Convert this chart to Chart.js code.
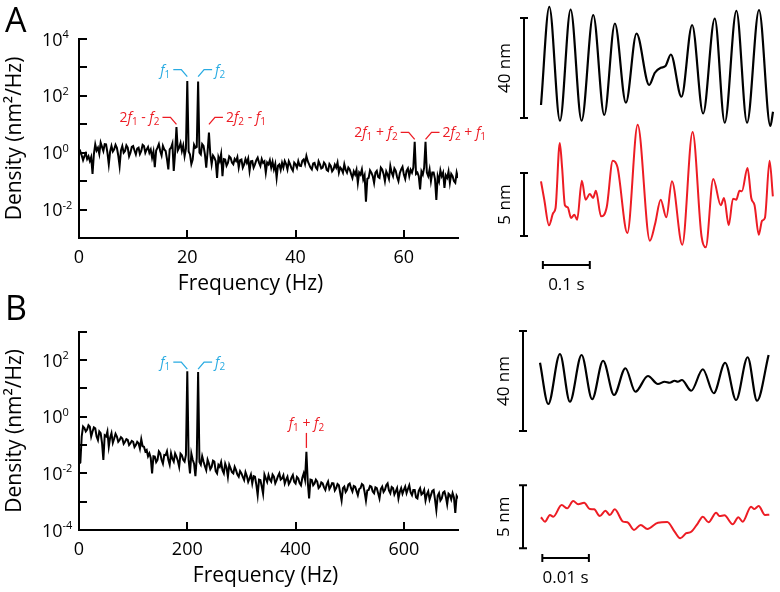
<!DOCTYPE html>
<html>
<head>
<meta charset="utf-8">
<script src="https://cdn.jsdelivr.net/npm/chart.js@4.4.1/dist/chart.umd.min.js"></script>
<style>
  body { margin: 0; background: #fff; width: 780px; height: 592px; position: relative; overflow: hidden; }
  canvas { position: absolute; }
</style>
</head>
<body>
<canvas id="specA" width="495" height="295" style="left:0;top:0"></canvas>
<canvas id="traceA" width="285" height="295" style="left:495px;top:0"></canvas>
<canvas id="specB" width="495" height="297" style="left:0;top:295px"></canvas>
<canvas id="traceB" width="285" height="297" style="left:495px;top:295px"></canvas>
<script>
// ---- data ----
// panel A spectrum, 0.25 Hz bins from 0 to 70 Hz, nm^2/Hz
const binA = 0.25;
const densA = [
  0.87, 1.1, 0.8, 0.55, 0.76, 0.95, 0.6, 0.75, 0.51, 0.7,
  0.18, 0.9, 1.97, 1.2, 1.5, 0.9, 2.25, 1.6, 1.15, 2.0,
  1.97, 1.0, 0.39, 1.1, 1.72, 1.1, 1.31, 1.9, 1.5, 0.8,
  0.34, 1.2, 1.72, 1.0, 1.15, 1.8, 1.5, 0.75, 1.0, 1.6,
  1.72, 1.2, 0.87, 1.4, 1.5, 0.9, 1.15, 1.9, 1.72, 1.0,
  1.31, 1.6, 1.0, 1.3, 0.67, 1.1, 0.31, 1.2, 1.5, 2.0,
  1.15, 0.8, 1.72, 1.3, 1.15, 0.6, 0.26, 1.3, 1.5, 2.1,
  0.23, 1.0, 8.0, 1.2, 1.5, 2.2, 1.15, 1.8, 0.76, 1.4,
  330, 1.1, 0.87, 0.4, 0.58, 1.9, 1.5, 1.6, 320, 1.0,
  0.87, 2.0, 1.72, 0.9, 0.3, 1.1, 5.1, 0.9, 0.39, 0.8,
  0.67, 0.5, 0.13, 0.7, 0.51, 0.9, 0.15, 0.6, 0.58, 0.35,
  0.44, 0.75, 0.67, 0.45, 0.39, 0.6, 0.51, 0.7, 0.3, 0.55,
  0.58, 0.3, 0.39, 0.6, 0.44, 0.62, 0.23, 0.5, 0.51, 0.3,
  0.39, 0.55, 0.67, 0.45, 0.34, 0.6, 0.44, 0.5, 0.2, 0.45,
  0.39, 0.55, 0.3, 0.48, 0.26, 0.4, 0.13, 0.35, 0.39, 0.25,
  0.44, 0.3, 0.51, 0.4, 0.26, 0.5, 0.39, 0.28, 0.23, 0.45,
  0.39, 0.3, 0.51, 0.35, 0.34, 0.52, 0.58, 0.4, 0.76, 0.5,
  0.39, 0.3, 0.26, 0.42, 0.44, 0.3, 0.26, 0.5, 0.39, 0.28,
  0.3, 0.45, 0.39, 0.25, 0.23, 0.4, 0.34, 0.22, 0.26, 0.38,
  0.3, 0.45, 0.2, 0.3, 0.26, 0.2, 0.39, 0.25, 0.2, 0.3,
  0.26, 0.18, 0.13, 0.22, 0.17, 0.25, 0.087, 0.2, 0.17, 0.26,
  0.115, 0.16, 0.019, 0.12, 0.13, 0.24, 0.2, 0.15, 0.087, 0.2,
  0.23, 0.14, 0.13, 0.3, 0.26, 0.18, 0.1, 0.22, 0.17, 0.12,
  0.34, 0.2, 0.15, 0.28, 0.23, 0.14, 0.1, 0.19, 0.26, 0.32,
  0.17, 0.12, 0.23, 0.28, 0.15, 0.25, 0.2, 0.3, 2.4, 0.18,
  0.2, 0.15, 0.051, 0.22, 0.17, 0.3, 2.4, 0.2, 0.15, 0.26,
  0.1, 0.2, 0.2, 0.12, 0.022, 0.15, 0.1, 0.24, 0.15, 0.2,
  0.058, 0.16, 0.13, 0.22, 0.087, 0.18, 0.15, 0.1, 0.087, 0.2,
  0.13
];
// panel B spectrum, 2.5 Hz bins from 0 to 700 Hz
const binB = 2.5;
const densB = [
  0.022, 0.024, 0.2, 0.45, 0.4, 0.3, 0.35, 0.5, 0.44, 0.2,
  0.3, 0.42, 0.39, 0.2, 0.15, 0.3, 0.26, 0.12, 0.03, 0.22,
  0.2, 0.3, 0.087, 0.18, 0.26, 0.12, 0.17, 0.25, 0.2, 0.13,
  0.15, 0.19, 0.17, 0.11, 0.13, 0.16, 0.15, 0.1, 0.115, 0.14,
  0.13, 0.085, 0.1, 0.13, 0.115, 0.075, 0.16, 0.09, 0.087, 0.06,
  0.067, 0.04, 0.051, 0.035, 0.01, 0.04, 0.039, 0.025, 0.03, 0.06,
  0.051, 0.03, 0.022, 0.045, 0.044, 0.06, 0.03, 0.02, 0.051, 0.033,
  0.026, 0.05, 0.039, 0.028, 0.017, 0.05, 0.044, 0.03, 0.026, 0.045,
  40, 0.03, 0.01, 0.05, 0.03, 0.022, 0.008, 0.035, 38, 0.025,
  0.02, 0.04, 0.026, 0.018, 0.013, 0.03, 0.022, 0.014, 0.017, 0.028,
  0.026, 0.012, 0.01, 0.02, 0.017, 0.025, 0.013, 0.01, 0.022, 0.016,
  0.0076, 0.02, 0.015, 0.011, 0.01, 0.017, 0.013, 0.009, 0.0076, 0.012,
  0.01, 0.0075, 0.0058, 0.011, 0.008, 0.005, 0.0066, 0.009, 0.0044, 0.008,
  0.0076, 0.004, 0.0017, 0.006, 0.0058, 0.0035, 0.0019, 0.009, 0.0066, 0.005,
  0.0087, 0.006, 0.0051, 0.009, 0.0076, 0.0045, 0.0058, 0.008, 0.01, 0.006,
  0.0066, 0.0085, 0.0044, 0.006, 0.0076, 0.0042, 0.0051, 0.007, 0.0087, 0.005,
  0.0044, 0.0075, 0.0066, 0.0045, 0.0038, 0.007, 0.01, 0.006, 0.058, 0.005,
  0.0013, 0.006, 0.0058, 0.0038, 0.0044, 0.006, 0.0051, 0.003, 0.0034, 0.0048,
  0.0044, 0.0032, 0.0026, 0.004, 0.0051, 0.0028, 0.0034, 0.0045, 0.0044, 0.0025,
  0.003, 0.0042, 0.0038, 0.002, 0.0011, 0.003, 0.0034, 0.0022, 0.0026, 0.004,
  0.0044, 0.003, 0.0023, 0.0036, 0.0034, 0.0024, 0.0017, 0.0028, 0.003, 0.0042,
  0.0038, 0.0022, 0.0011, 0.0025, 0.0026, 0.0036, 0.0034, 0.0023, 0.002, 0.0032,
  0.003, 0.002, 0.0013, 0.0028, 0.0034, 0.0022, 0.0026, 0.0038, 0.0044, 0.0025,
  0.002, 0.0033, 0.003, 0.0018, 0.0023, 0.003, 0.0013, 0.0022, 0.003, 0.0019,
  0.0026, 0.0034, 0.002, 0.0028, 0.0038, 0.0021, 0.0017, 0.0026, 0.0026, 0.0014,
  0.0013, 0.0024, 0.003, 0.0018, 0.002, 0.0026, 0.0011, 0.0018, 0.0023, 0.0012,
  0.0017, 0.0024, 0.0026, 0.0012, 0.0005, 0.0016, 0.002, 0.0011, 0.0013, 0.0021,
  0.0023, 0.0015, 0.0008, 0.0019, 0.0017, 0.0012, 0.002, 0.0014, 0.0004, 0.0016,
  0.0013
];
const freqA = densA.map((_, i) => i * binA);
const freqB = densB.map((_, i) => i * binB);

const xTicksA = [0, 20, 40, 60];
const xTicksB = [0, 200, 400, 600];
const yLabelExpA = [4, 2, 0, -2];
const yLabelExpB = [2, 0, -2, -4];

// time traces: time in ms, displacement in nm
const blackA_t  = [0, 17.7, 40.4, 63.1, 86.5, 111.3, 134.8, 157.4, 180.9, 203.5, 230.5, 242.6, 255.3, 265.2, 276.6, 299.3, 322, 345.4, 370.2, 391.5, 416.3, 439, 464.5, 488.7, 494.3];
const blackA_nm = [-15.7, 23.6, -22, 22.5, -22, 20.3, -19.7, 16.9, -14.8, 12.9, -7.7, -2.8, -0.8, -0.13, 4.5, -12.4, 16.3, -19.1, 18.9, -22.8, 22, -22.8, 22.3, -24.1, -18.4];
const redA_t  = [0, 7, 17, 26, 31, 40, 45, 51, 57, 64, 71, 77, 87, 95, 104, 111, 117, 128, 140, 153, 163, 184, 206, 232, 243, 255, 267, 279, 301, 323, 342, 351, 367, 383, 390, 400, 409, 416, 423, 428, 440, 448, 455, 464, 471, 477, 487, 494];
const redA_nm = [0.69, -0.77, -2.8, -1.83, -1.43, 3.73, 1.75, -1.21, -1.37, -2.22, -1.96, -2.36, 0.74, -0.77, -0.32, -0.63, -0.06, -2.09, -1.37, 2.33, 1.8, -3.41, 5.18, -4.02, -2.7, -0.77, -2.17, 0.69, -4.34, 4.6, -3.67, -4.55, 0.87, -1.21, -0.63, -2.8, -0.69, -0.77, -0.06, -0.1, 1.75, -0.63, -1.21, -3.55, -2.44, -2.22, 2.33, -0.5];
const blackB_t  = [0, 1.78, 4.28, 6.42, 8.93, 11.2, 13.55, 15.91, 18.35, 20.49, 23.19, 25.33, 26.77, 27.84, 28.91, 29.61, 30.47, 32.48, 34.97, 37.32, 39.76, 42.12, 44.6, 46.62, 49.1];
const blackB_nm = [6.5, -10, 10, -9.1, 9.6, -8.1, 7.3, -6.4, 4.3, -5.1, 1.2, -2.0, -1.1, -1.5, -0.7, -1.1, -0.4, -4.7, 3.9, -5.7, 6.5, -8.4, 8.7, -8.7, 9.6];
const redB_t  = [0.21, 1.07, 2.14, 2.85, 4.65, 5.85, 7.13, 8.2, 9.49, 10.71, 11.63, 12.85, 14.07, 14.99, 16.06, 17.84, 18.78, 20.19, 21.63, 23.06, 25.33, 27.34, 28.91, 30.13, 31.41, 32.48, 33.9, 34.97, 36.19, 37.84, 38.54, 39.61, 41.39, 42.61, 43.53, 45.33, 46.04, 46.96, 48.33, 49.25];
const redB_nm = [-0.02, -0.37, 0.16, 0.02, 0.95, 0.69, 1.27, 1.01, 1.13, 0.63, 0.61, 0.08, 0.5, 0.16, 0.61, -0.37, -0.42, -1.03, -0.63, -0.95, -0.45, -0.4, -1.17, -1.69, -1.29, -1.17, -0.5, 0.02, -0.42, 0.34, 0.08, 0.13, -0.58, -0.02, -0.37, 0.82, 0.63, 0.87, 0.16, 0.18];

// ---- drawing ----
const FONT = "'Open Sans', sans-serif";
const BLUE = '#29abe2';
const RED = '#ed1c24';

function fontFor(st, size, small) {
  if (st === 'i') return `italic ${size}px ${FONT}`;
  if (st === 's' || st === 'p') return `${Math.round(size * small)}px ${FONT}`;
  return `${size}px ${FONT}`;
}

// parts: [text, style] with style '' normal, 'i' italic, 's' subscript, 'p' superscript
function richText(ctx, parts, x, y, align, size, color, small = 0.68) {
  const w = parts.map(([t, st]) => { ctx.font = fontFor(st, size, small); return ctx.measureText(t).width; });
  const total = w.reduce((a, b) => a + b, 0);
  let cx = align === 'right' ? x - total : align === 'center' ? x - total / 2 : x;
  ctx.fillStyle = color;
  ctx.textAlign = 'left';
  ctx.textBaseline = 'alphabetic';
  parts.forEach(([t, st], i) => {
    ctx.font = fontFor(st, size, small);
    const dy = st === 's' ? size * 0.22 : st === 'p' ? -size * 0.42 : 0;
    ctx.fillText(t, cx, y + dy);
    cx += w[i];
  });
}

function spectrumDecor(cfg) {
  return {
    id: 'spectrumDecor',
    afterDraw(chart) {
      const { ctx, chartArea: a, scales: { x, y } } = chart;
      ctx.save();
      ctx.strokeStyle = '#000';
      ctx.lineWidth = 2;
      ctx.beginPath();
      for (let e = cfg.minExp + 1; e <= cfg.maxExp; e++) {
        const py = Math.round(y.getPixelForValue(10 ** e));
        ctx.moveTo(a.left, py); ctx.lineTo(a.left + 8, py);
      }
      cfg.xTicks.forEach(v => {
        if (v === 0) return;
        const px = Math.round(x.getPixelForValue(v));
        ctx.moveTo(px, a.bottom); ctx.lineTo(px, a.bottom - 8);
      });
      ctx.stroke();

      cfg.yLabelExp.forEach(e => {
        const py = y.getPixelForValue(10 ** e);
        richText(ctx, [['10', ''], [String(e), 'p']], a.left - 37, py + 6.5, 'left', 18, '#000', 0.6);
      });
      ctx.font = `18px ${FONT}`;
      ctx.fillStyle = '#000';
      ctx.textAlign = 'center';
      ctx.textBaseline = 'alphabetic';
      cfg.xTicks.forEach(v => ctx.fillText(String(v), x.getPixelForValue(v), a.bottom + 25));

      ctx.font = `21px ${FONT}`;
      ctx.fillText('Frequency (Hz)', (a.left + a.right) / 2 + cfg.xTitleShift, a.bottom + 52);
      ctx.save();
      ctx.translate(20.5, (a.top + a.bottom) / 2);
      ctx.rotate(-Math.PI / 2);
      ctx.fillText('Density (nm\u00b2/Hz)', 0, 0);
      ctx.restore();

      ctx.font = `34px ${FONT}`;
      ctx.textAlign = 'left';
      ctx.fillText(cfg.letter, 5, cfg.letterY);

      // peak labels with leader lines
      cfg.notes.forEach(n => {
        const px = x.getPixelForValue(n.x), py = y.getPixelForValue(n.y);
        ctx.strokeStyle = n.color;
        ctx.lineWidth = 1.3;
        ctx.beginPath();
        if (n.dir === 'up') {
          ctx.moveTo(px, py); ctx.lineTo(px, py - 15);
          ctx.stroke();
          richText(ctx, n.parts, px, py - 20, 'center', 14, n.color);
        } else {
          const s = n.dir === 'left' ? -1 : 1;
          ctx.moveTo(px, py); ctx.lineTo(px + s * 6, py - 7); ctx.lineTo(px + s * 14, py - 7);
          ctx.stroke();
          richText(ctx, n.parts, px + s * 17, py - 2, n.dir === 'left' ? 'right' : 'left', 14, n.color);
        }
      });
      ctx.restore();
    }
  };
}

function spectrumChart(id, freq, dens, cfg) {
  const axisBorder = { display: true, color: '#000', width: 2 };
  return new Chart(document.getElementById(id), {
    type: 'line',
    data: {
      datasets: [{
        data: dens.map((v, i) => ({ x: freq[i], y: v })),
        borderColor: '#000', borderWidth: 2, pointRadius: 0, tension: 0
      }]
    },
    options: {
      responsive: false, animation: false, events: [],
      layout: { padding: cfg.padding },
      plugins: { legend: { display: false }, tooltip: { enabled: false } },
      scales: {
        x: {
          type: 'linear', min: 0, max: cfg.xMax,
          grid: { display: false }, ticks: { display: false }, border: axisBorder,
          afterFit: s => { s.height = cfg.xAxisH; }
        },
        y: {
          type: 'logarithmic', min: 10 ** cfg.minExp, max: 10 ** cfg.maxExp,
          grid: { display: false }, ticks: { display: false }, border: axisBorder,
          afterFit: s => { s.width = cfg.yAxisW; }
        }
      }
    },
    plugins: [spectrumDecor(cfg)]
  });
}

function traceDecor(cfg) {
  return {
    id: 'traceDecor',
    afterDraw(chart) {
      const { ctx, chartArea: a, scales } = chart;
      ctx.save();
      ctx.strokeStyle = '#000';
      ctx.fillStyle = '#000';
      ctx.lineWidth = 2;
      const bx = a.left - 17;
      cfg.bars.forEach(b => {
        const s = scales[b.axis];
        const y1 = s.getPixelForValue(b.from), y2 = s.getPixelForValue(b.to);
        ctx.beginPath();
        ctx.moveTo(bx, y1); ctx.lineTo(bx, y2);
        ctx.moveTo(bx - 4, y1); ctx.lineTo(bx + 4, y1);
        ctx.moveTo(bx - 4, y2); ctx.lineTo(bx + 4, y2);
        ctx.stroke();
        ctx.save();
        ctx.translate(a.left - 36, (y1 + y2) / 2);
        ctx.rotate(-Math.PI / 2);
        ctx.font = `17px ${FONT}`;
        ctx.textAlign = 'center';
        ctx.textBaseline = 'middle';
        ctx.fillText(b.label, 0, 0);
        ctx.restore();
      });
      const t = cfg.time;
      const x1 = scales.x.getPixelForValue(t.from), x2 = scales.x.getPixelForValue(t.to);
      const ty = a.bottom + t.dy;
      ctx.beginPath();
      ctx.moveTo(x1, ty); ctx.lineTo(x2, ty);
      ctx.moveTo(x1, ty - 4); ctx.lineTo(x1, ty + 4);
      ctx.moveTo(x2, ty - 4); ctx.lineTo(x2, ty + 4);
      ctx.stroke();
      ctx.font = `17px ${FONT}`;
      ctx.textAlign = 'center';
      ctx.textBaseline = 'alphabetic';
      ctx.fillText(t.label, (x1 + x2) / 2, ty + 25);
      ctx.restore();
    }
  };
}

function traceChart(id, bt, bnm, rt, rnm, cfg) {
  return new Chart(document.getElementById(id), {
    type: 'line',
    data: {
      datasets: [
        { data: bt.map((t, i) => ({ x: t, y: bnm[i] })), yAxisID: 'yK', borderColor: '#000', borderWidth: 2.2,
          pointRadius: 0, cubicInterpolationMode: 'monotone', clip: false },
        { data: rt.map((t, i) => ({ x: t, y: rnm[i] })), yAxisID: 'yR', borderColor: RED, borderWidth: 2,
          pointRadius: 0, cubicInterpolationMode: 'monotone', clip: false }
      ]
    },
    options: {
      responsive: false, animation: false, events: [],
      layout: { padding: cfg.padding },
      plugins: { legend: { display: false }, tooltip: { enabled: false } },
      scales: {
        x: { type: 'linear', display: false, min: 0, max: cfg.tMax },
        yK: { type: 'linear', display: false, min: cfg.yK[0], max: cfg.yK[1] },
        yR: { type: 'linear', display: false, min: cfg.yR[0], max: cfg.yR[1] }
      }
    },
    plugins: [traceDecor(cfg)]
  });
}

const f1 = [['f', 'i'], ['1', 's']];
const f2 = [['f', 'i'], ['2', 's']];

spectrumChart('specA', freqA, densA, {
  padding: { top: 39, right: 37, left: 0, bottom: 0 }, yAxisW: 79, xAxisH: 57,
  xMax: 70, minExp: -3, maxExp: 4, xTicks: xTicksA, yLabelExp: yLabelExpA,
  xTitleShift: -18, letter: 'A', letterY: 32,
  notes: [
    { x: 18, y: 9.9, dir: 'left', color: RED, parts: [['2', ''], ...f1, [' - ', ''], ...f2] },
    { x: 20, y: 475, dir: 'left', color: BLUE, parts: f1 },
    { x: 22, y: 475, dir: 'right', color: BLUE, parts: f2 },
    { x: 24, y: 9.9, dir: 'right', color: RED, parts: [['2', ''], ...f2, [' - ', ''], ...f1] },
    { x: 62, y: 2.94, dir: 'left', color: RED, parts: [['2', ''], ...f1, [' + ', ''], ...f2] },
    { x: 64, y: 2.94, dir: 'right', color: RED, parts: [['2', ''], ...f2, [' + ', ''], ...f1] }
  ]
});

spectrumChart('specB', freqB, densB, {
  padding: { top: 36.7, right: 37, left: 0, bottom: 0 }, yAxisW: 79, xAxisH: 62,
  xMax: 700, minExp: -4, maxExp: 3, xTicks: xTicksB, yLabelExp: yLabelExpB,
  xTitleShift: -3, letter: 'B', letterY: 25,
  notes: [
    { x: 200, y: 48, dir: 'left', color: BLUE, parts: f1 },
    { x: 220, y: 48, dir: 'right', color: BLUE, parts: f2 },
    { x: 420, y: 0.079, dir: 'up', color: RED, parts: [...f1, [' + ', ''], ...f2] }
  ]
});

traceChart('traceA', blackA_t, blackA_nm, redA_t, redA_nm, {
  padding: { left: 46, right: 7, top: 5, bottom: 45 },
  tMax: 494.3, yK: [-73.7, 24.3], yR: [-4.76, 14.68],
  bars: [{ axis: 'yK', from: -20.9, to: 19.1, label: '40 nm' }, { axis: 'yR', from: -3.65, to: 1.35, label: '5 nm' }],
  time: { from: 4, to: 104, dy: 15, label: '0.1 s' }
});

traceChart('traceB', blackB_t, blackB_nm, redB_t, redB_nm, {
  padding: { left: 45, right: 10.7, top: 5, bottom: 42 },
  tMax: 49.25, yK: [-68.4, 31.6], yR: [-2.62, 17.22],
  bars: [{ axis: 'yK', from: -20.8, to: 19.2, label: '40 nm' }, { axis: 'yR', from: -2.48, to: 2.52, label: '5 nm' }],
  time: { from: 0.5, to: 10.5, dy: 8, label: '0.01 s' }
});
</script>
</body>
</html>
